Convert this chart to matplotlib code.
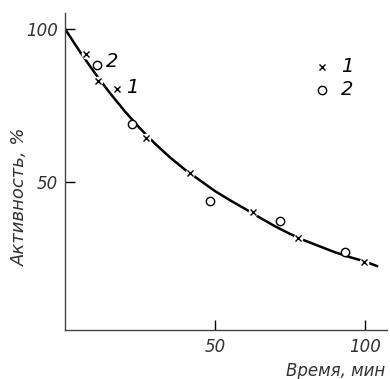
import matplotlib
matplotlib.use('Agg')
import matplotlib.pyplot as plt

# series 1 (crosses) and series 2 (circles): time, min / activity, %
t1 = [7.0, 11.0, 17.3, 27.0, 41.7, 62.7, 77.7, 99.7]
a1 = [91.8, 83.0, 80.4, 64.4, 53.0, 40.2, 31.7, 23.9]
t2 = [10.7, 22.3, 48.3, 71.7, 93.3]
a2 = [88.2, 69.0, 43.8, 37.3, 27.1]

# fitted curve
curve_t = [0, 5, 10, 15, 20, 25, 30, 35, 40, 45, 50, 55, 60, 65, 70, 75, 80, 85, 90, 95, 100, 104]
curve_a = [100, 92.5, 85.5, 79, 73, 67.5, 62.5, 58, 54, 50.5, 47, 44, 41.2, 38.3, 35.5, 33, 30.8, 28.9, 27.0, 25.4, 24.0, 22.5]

xticks = [50, 100]
yticks = [50, 100]

plt.rcParams['font.family'] = ['DejaVu Sans']

fig = plt.figure(figsize=(3.9, 3.79), dpi=100)
ax = fig.add_axes([0.1667, 0.1293, 0.8253, 0.8364])

ax.plot(curve_t, curve_a, color='black', lw=1.8, zorder=2)
# small white patches so the line breaks at the crosses
ax.plot(t1, a1, ls='none', marker='o', ms=7, mfc='white', mec='none', zorder=3)
ax.plot(t1, a1, ls='none', marker='x', ms=5, mew=1.0, color='black', zorder=4)
ax.plot(t2, a2, ls='none', marker='o', ms=6, mfc='white', mec='black', mew=1.0, zorder=4)

ax.set_xlim(0, 107.3)
ax.set_ylim(1.6, 105.2)
ax.set_xticks(xticks)
ax.set_yticks(yticks)
ax.tick_params(direction='in', length=7, width=1.0, labelsize=12)
ax.tick_params(axis='x', pad=6)
ax.tick_params(axis='y', pad=5)
for lab in ax.get_xticklabels() + ax.get_yticklabels():
    lab.set_fontstyle('italic')
    lab.set_color('#333333')

for s in ['top', 'right']:
    ax.spines[s].set_visible(False)
for s in ['left', 'bottom']:
    ax.spines[s].set_linewidth(1.0)
    ax.spines[s].set_color('#444444')

fig.text(0.051, 0.48, 'Активность, %', fontsize=13, style='italic', color='#333333',
         rotation=90, ha='center', va='center')
fig.text(0.987, 0.02, 'Время, мин', fontsize=12, style='italic', color='#333333',
         ha='right', va='center')

# labels next to the curve
ax.text(13.8, 89.5, '2', fontsize=14, style='italic', ha='left', va='center')
ax.text(20.2, 81.0, '1', fontsize=14, style='italic', ha='left', va='center')

# key
ax.plot([85.7], [87.6], ls='none', marker='x', ms=5, mew=1.0, color='black')
ax.plot([85.7], [80.1], ls='none', marker='o', ms=6, mfc='white', mec='black', mew=1.0)
ax.text(92.0, 87.8, '1', fontsize=14, style='italic', ha='left', va='center')
ax.text(92.0, 80.3, '2', fontsize=14, style='italic', ha='left', va='center')

fig.savefig('out.png', dpi=100)
